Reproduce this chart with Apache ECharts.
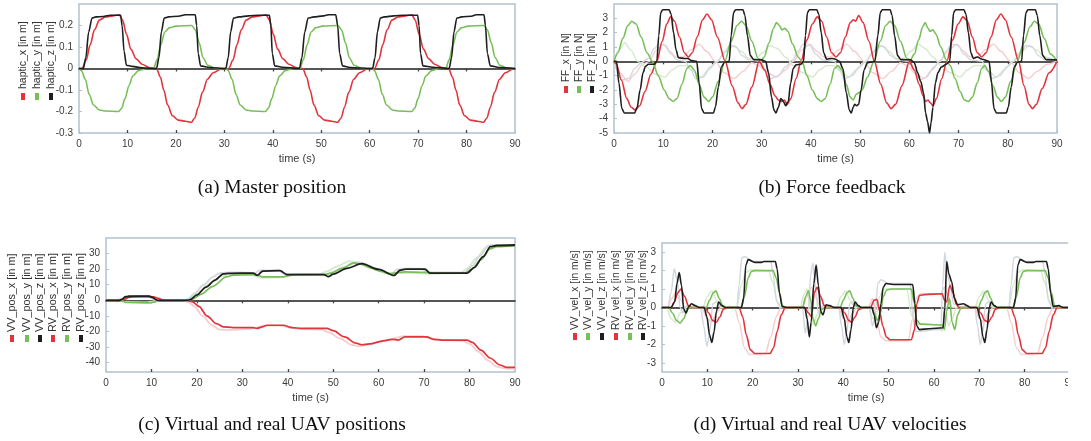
<!DOCTYPE html>
<html>
<head>
<meta charset="utf-8">
<script src="https://cdn.jsdelivr.net/npm/echarts@6/dist/echarts.min.js"></script>
<style>
html,body{margin:0;padding:0;background:#fff;}
#chart{width:1091px;height:441px;}
</style>
</head>
<body>
<div id="chart"></div>
<script>
// ---- tick labels ----
var timeTicks = [0,10,20,30,40,50,60,70,80,90];
var posTicks = [-40,-30,-20,-10,0,10,20,30];
var velTicks = [-3,-2,-1,0,1,2,3];

// ---- legends / captions ----
var legendA = ['haptic_x [in m]','haptic_y [in m]','haptic_z [in m]'];
var legendB = ['FF_x [in N]','FF_y [in N]','FF_z [in N]'];
var legendC = ['VV_pos_x [in m]','VV_pos_y [in m]','VV_pos_z [in m]','RV_pos_x [in m]','RV_pos_y [in m]','RV_pos_z [in m]'];
var legendD = ['VV_vel_x [in m/s]','VV_vel_y [in m/s]','VV_vel_z [in m/s]','RV_vel_x [in m/s]','RV_vel_y [in m/s]','RV_vel_z [in m/s]'];
var captions = ['(a) Master position','(b) Force feedback','(c) Virtual and real UAV positions','(d) Virtual and real UAV velocities'];

// ---- (a) master position, [time, value] ----
var hapticX = [[0,0],[0.6,0],[1.5,0.04],[2.3,0.11],[3.2,0.18],[4.2,0.225],[5.5,0.24],[7,0.245],[8.3,0.25],[9,0.225],[9.8,0.16],[10.7,0.09],[11.8,0.045],[13,0.02],[14.5,0.005],[16,0],
[16.8,-0.04],[17.5,-0.1],[18.3,-0.17],[19.3,-0.22],[20.5,-0.24],[22,-0.245],[23.2,-0.25],[23.9,-0.23],[24.6,-0.18],[25.5,-0.11],[26.5,-0.05],[27.7,-0.02],[29.5,0],
[30.9,0],[31.8,0.04],[32.6,0.11],[33.5,0.18],[34.5,0.225],[35.8,0.24],[37.3,0.245],[38.6,0.25],[39.3,0.225],[40.1,0.16],[41,0.09],[42.1,0.045],[43.3,0.02],[44.8,0.005],[46.2,0],
[47,-0.04],[47.7,-0.1],[48.5,-0.17],[49.5,-0.22],[50.7,-0.24],[52.2,-0.245],[53.4,-0.25],[54.1,-0.23],[54.8,-0.18],[55.7,-0.11],[56.7,-0.05],[57.9,-0.02],[59.7,0],
[61,0],[61.9,0.04],[62.7,0.11],[63.6,0.18],[64.6,0.225],[65.9,0.24],[67.4,0.245],[68.7,0.25],[69.4,0.225],[70.2,0.16],[71.1,0.09],[72.2,0.045],[73.4,0.02],[74.9,0.005],[76.3,0],
[77.1,-0.04],[77.8,-0.1],[78.6,-0.17],[79.6,-0.22],[80.8,-0.24],[82.3,-0.245],[83.5,-0.25],[84.2,-0.23],[84.9,-0.18],[85.8,-0.11],[86.8,-0.05],[88,-0.02],[89.8,0],[90,0]];
var hapticY = [[0,0],[0.5,-0.01],[1.3,-0.05],[2.1,-0.12],[3,-0.17],[4.2,-0.193],[5.5,-0.198],[8.2,-0.2],[8.8,-0.185],[9.5,-0.14],[10.3,-0.08],[11.1,-0.035],[12.3,-0.01],[14,0],
[15.4,0],[16.1,0.04],[16.9,0.11],[17.7,0.17],[18.7,0.19],[20,0.197],[23.3,0.2],[24,0.18],[24.8,0.12],[25.6,0.05],[26.6,0.015],[28.3,0],
[30.3,0],[30.8,-0.01],[31.6,-0.05],[32.4,-0.12],[33.3,-0.17],[34.5,-0.193],[35.8,-0.198],[38.5,-0.2],[39.1,-0.185],[39.8,-0.14],[40.6,-0.08],[41.4,-0.035],[42.6,-0.01],[44.3,0],
[45.6,0],[46.3,0.04],[47.1,0.11],[47.9,0.17],[48.9,0.19],[50.2,0.197],[53.5,0.2],[54.2,0.18],[55,0.12],[55.8,0.05],[56.8,0.015],[58.5,0],
[60.5,0],[61,-0.01],[61.8,-0.05],[62.6,-0.12],[63.5,-0.17],[64.7,-0.193],[66,-0.198],[68.7,-0.2],[69.3,-0.185],[70,-0.14],[70.8,-0.08],[71.6,-0.035],[72.8,-0.01],[74.5,0],
[75.7,0],[76.4,0.04],[77.2,0.11],[78,0.17],[79,0.19],[80.3,0.197],[83.6,0.2],[84.3,0.18],[85.1,0.12],[85.9,0.05],[86.9,0.015],[88.6,0],[90,0]];
var hapticZ = [[0,0],[0.9,0],[1.4,0.05],[2,0.17],[2.7,0.235],[3.5,0.24],[5,0.242],[6.5,0.248],[8.6,0.248],[8.9,0.2],[9.3,0.08],[9.8,0.015],[11,0.01],[13,0.003],[16,0],
[16.5,0.05],[17,0.17],[17.6,0.235],[18.5,0.24],[20.5,0.243],[22,0.25],[24,0.25],[24.3,0.2],[24.6,0.07],[25.1,0.012],[27,0.005],[30.3,0],
[30.8,0.05],[31.3,0.17],[31.9,0.235],[33,0.24],[35,0.245],[37,0.248],[39.3,0.248],[39.6,0.2],[39.9,0.07],[40.4,0.012],[42,0.006],[45.5,0],
[46,0.05],[46.6,0.17],[47.3,0.235],[48.5,0.24],[50.5,0.245],[51.5,0.25],[53,0.25],[53.4,0.2],[53.8,0.07],[54.4,0.012],[56,0.005],[60.6,0],
[61.1,0.05],[61.6,0.17],[62.2,0.235],[63,0.24],[65,0.245],[67,0.248],[69.9,0.248],[70.2,0.2],[70.5,0.07],[71,0.012],[73,0.006],[76.4,0],
[76.9,0.05],[77.4,0.17],[78,0.235],[79,0.24],[81,0.243],[82,0.25],[83.6,0.25],[83.9,0.2],[84.3,0.07],[84.9,0.012],[87,0.004],[90,0]];

// ---- (b) force feedback ----
var ffX = [[0,0],[0.5,-0.2],[1.5,-1.3],[2.6,-2.6],[3.5,-3.2],[4.3,-3.4],[5.2,-3.1],[6.3,-2.1],[7.5,-0.9],[8.7,0],[9.8,1.4],[10.7,2.6],[11.5,3.1],[12.3,2.8],[13.3,1.7],[14.3,0.6],[15.1,0.3],[15.9,0.6],[16.9,1.7],[18,2.9],[18.9,3.3],[19.8,2.9],[21,1.7],[22.6,0],[24,-1.7],[25.2,-2.9],[26,-3.3],[26.8,-3],[28,-1.8],[29.5,0],
[30.6,-0.6],[31.7,-1.6],[32.7,-2.4],[33.4,-2.7],[34,-2.8],[34.6,-2.7],[35.2,-3.0],[35.9,-2.6],[37,-1.2],[38,0],[39.2,1.5],[40.3,2.6],[41.3,3.1],[42.2,2.8],[43.2,1.7],[44.2,0.6],[45.1,0.3],[46,0.6],[47,1.7],[48,2.7],[48.6,2.9],[49.1,2.8],[49.7,3.2],[50.6,2.7],[51.8,1.4],[52.9,0],[54.2,-1.6],[55.4,-2.9],[56.3,-3.3],[57.2,-3],[58.5,-1.7],[60,0],
[61,-0.6],[62,-1.6],[62.8,-2.4],[63.3,-2.8],[63.8,-2.7],[64.3,-2.9],[64.8,-3.1],[65.5,-2.6],[66.6,-1.2],[67.6,0],[68.8,1.5],[69.9,2.6],[70.9,3.1],[71.8,2.8],[72.8,1.7],[73.8,0.6],[74.7,0.3],[75.6,0.6],[76.6,1.7],[77.7,2.9],[78.6,3.3],[79.5,2.9],[80.7,1.7],[82.2,0],[83.3,-1.7],[84.3,-3.0],[85,-3.3],[85.8,-3.0],[87,-1.9],[88.4,-0.8],[90,0]];
var ffY = [[0,0],[0.8,0.6],[1.8,1.6],[2.8,2.5],[3.6,2.8],[4.5,2.6],[5.5,1.7],[6.7,0.6],[7.8,0],[9,-1],[10.2,-2],[11.2,-2.6],[12,-2.8],[12.8,-2.6],[13.8,-1.6],[14.8,-0.5],[15.5,-0.3],[16.3,-0.6],[17.3,-1.6],[18.3,-2.5],[19.2,-2.8],[20,-2.5],[21.2,-1.4],[22.5,0],[23.8,1.4],[25,2.5],[25.9,2.8],[26.8,2.5],[28,1.4],[29.3,0.2],[30,0.1],
[30.5,0.3],[31.5,1.3],[32.4,2.3],[33,2.7],[33.6,2.5],[34.1,2.2],[34.7,2.3],[35.3,2.1],[36.3,1.2],[37.4,0.3],[38.2,0],[39.2,-1],[40.3,-2],[41.3,-2.6],[42.1,-2.8],[42.9,-2.6],[43.9,-1.6],[44.8,-0.5],[45.5,-0.3],[46.3,-0.6],[47.2,-1.6],[48,-2.5],[48.6,-2.7],[49.2,-2.3],[49.7,-2.2],[50.4,-2.0],[51.5,-1.1],[52.8,0],[54.1,1.4],[55.2,2.5],[56.1,2.8],[57,2.5],[58.2,1.4],[59.5,0.2],[60.2,0.1],
[61,0.5],[61.9,1.5],[62.7,2.4],[63.2,2.7],[63.8,2.3],[64.2,2.1],[64.8,2.2],[65.4,1.9],[66.4,1],[67.5,0.1],[68.3,-0.3],[69.3,-1.2],[70.3,-2.1],[71.2,-2.7],[72,-2.8],[72.8,-2.5],[73.8,-1.5],[74.7,-0.5],[75.3,-0.3],[76.1,-0.7],[77,-1.7],[77.9,-2.5],[78.7,-2.8],[79.5,-2.5],[80.6,-1.4],[81.9,0],[83.3,1.3],[84.5,2.4],[85.4,2.8],[86.3,2.6],[87.4,1.6],[88.7,0.5],[90,0]];
var ffZ = [[0,0],[0.5,0],[1.0,-1.5],[1.6,-3.3],[2.1,-3.6],[4.2,-3.6],[4.7,-3.2],[5.3,-2],[5.9,-0.8],[6.4,-0.35],[7,-0.2],[8.2,-0.2],[8.7,0],[9.1,1.8],[9.5,3.4],[9.9,3.6],[11.2,3.6],[11.6,3.3],[12.1,2],[12.6,0.8],[13.1,0.25],[14.3,0.2],[15,0.2],[15.8,0.05],[16.8,0],[17.3,-1.5],[17.8,-3.3],[18.3,-3.6],[20.2,-3.6],[20.6,-3.2],[21.2,-1.8],[21.8,-0.4],[22.5,-0.05],[23.4,0],[23.8,1.8],[24.3,3.4],[24.7,3.6],[26.2,3.6],[26.6,3.2],[27.1,1.8],[27.7,0.4],[28.4,0.12],[30,0.1],
[30.8,0],[31.4,-0.8],[32,-2.5],[32.5,-3.4],[32.9,-3.6],[33.4,-3.2],[33.9,-2.6],[34.4,-2.8],[34.9,-3.1],[35.4,-2.8],[35.9,-1.5],[36.4,-0.5],[37,-0.25],[38,-0.2],[38.5,0],[38.9,1.8],[39.3,3.4],[39.7,3.6],[41.2,3.6],[41.6,3.3],[42.1,2],[42.6,0.6],[43.2,0.15],[44.3,0.2],[45,0.15],[45.8,0],[46.5,-0.5],[47.2,-2.2],[47.8,-3.4],[48.2,-3.6],[48.6,-3.2],[48.9,-3],[49.3,-3.1],[49.7,-3],[50.2,-2],[50.8,-0.6],[51.5,-0.1],[53,0],[53.6,1.8],[54.1,3.4],[54.5,3.6],[56.1,3.6],[56.5,3.2],[57,1.8],[57.6,0.4],[58.3,0.12],[60.3,0.1],
[61,-0.1],[61.7,-0.8],[62.3,-1.4],[62.9,-2.2],[63.3,-3.6],[63.7,-4.2],[64.1,-5],[64.4,-4.3],[64.8,-3.2],[65.3,-1.5],[65.8,-0.8],[66.5,-0.4],[67.5,-0.2],[68.2,0],[68.6,1.8],[69,3.4],[69.4,3.6],[71.1,3.6],[71.5,3.3],[72,2],[72.5,0.6],[73,0.2],[73.8,0.3],[74.8,0.15],[76.2,0],[76.7,-1.5],[77.2,-3.3],[77.7,-3.6],[79.7,-3.6],[80.1,-3.2],[80.7,-1.8],[81.3,-0.4],[82,-0.05],[82.8,0],[83.2,1.8],[83.7,3.4],[84.1,3.6],[85.6,3.6],[86,3.2],[86.5,1.8],[87.1,0.4],[87.8,0.12],[90,0.1]];
// faint traces in (b)
var ffXf = [[0,0],[1.2,-0.8],[2.8,-1.4],[4.2,-0.9],[5.8,-0.2],[7.2,0],[8.6,0.8],[10,1.2],[11.3,0.7],[12.6,0.3],[14,0.3],[15.6,0.8],[17.3,1.2],[18.8,0.7],[20.6,0],[22.4,-0.8],[24.4,-1.2],[26.2,-0.7],[28,-0.1],[29.4,-0.3],[31.2,-0.8],[33,-1.1],[34.8,-0.6],[36.4,0],[38.2,0.8],[39.8,1.2],[41.2,0.7],[42.6,0.3],[44,0.3],[45.6,0.8],[47.3,1.2],[48.8,0.7],[50.8,0],[52.6,-0.8],[54.6,-1.2],[56.4,-0.7],[58.2,-0.1],[59.6,-0.3],[61.3,-0.9],[63,-1.2],[64.6,-0.6],[66.2,0],[68,0.8],[69.6,1.2],[71,0.7],[72.4,0.3],[73.8,0.3],[75.4,0.8],[77.1,1.2],[78.6,0.7],[80.5,0],[82.4,-0.8],[84.2,-1.2],[86,-0.7],[88,-0.2],[90,0]];
var ffYf = [[0,0],[1,0.8],[2.2,1.3],[3.4,0.8],[4.8,0],[6.5,-0.4],[8.5,-0.9],[10.3,-1.1],[11.8,-0.6],[13.2,-0.3],[14.6,-0.3],[16.1,-0.7],[17.7,-1.1],[19.2,-0.6],[21,0],[22.8,0.7],[24.4,1.1],[25.8,0.7],[27.5,0.2],[28.8,0.2],[30.2,0.6],[31.7,1.1],[33.2,0.9],[34.8,0.3],[36.5,-0.3],[38.4,-0.8],[40.3,-1.1],[41.8,-0.6],[43.2,-0.3],[44.6,-0.3],[46.1,-0.7],[47.7,-1.1],[49.2,-0.6],[51,0],[52.8,0.7],[54.4,1.1],[55.8,0.7],[57.5,0.2],[58.8,0.2],[60.3,0.7],[61.8,1.2],[63.2,0.9],[64.8,0.3],[66.5,-0.3],[68.4,-0.8],[70.3,-1.1],[71.8,-0.6],[73.2,-0.3],[74.6,-0.3],[76.1,-0.7],[77.7,-1.1],[79.2,-0.6],[81,0],[82.8,0.7],[84.4,1.1],[85.8,0.8],[87.5,0.3],[90,0]];
var ffZf = [[0,0],[0.6,-0.6],[1.5,-1.3],[3,-1.2],[4.2,-0.5],[5.5,-0.1],[7,0.2],[8.2,0.9],[9.2,1.2],[10.5,1.1],[11.6,0.5],[12.8,0.1],[14.5,0],[15.6,-0.6],[16.6,-1.2],[18.2,-1.1],[19.5,-0.4],[21,0],[22.4,0.6],[23.5,1.1],[24.8,1.0],[26,0.4],[27.5,0.1],[29.8,0],[30.8,-0.6],[31.8,-1.2],[33.4,-1.0],[34.8,-0.4],[36.3,0.1],[37.4,0.7],[38.4,1.2],[39.8,1.1],[41,0.5],[42.4,0.1],[44.8,0],[45.8,-0.6],[46.8,-1.2],[48.4,-1.0],[49.8,-0.4],[51.2,0],[52.6,0.6],[53.6,1.1],[55,1.0],[56.2,0.4],[57.6,0.1],[59.8,0],[61,-0.6],[62.2,-1.3],[63.5,-1.1],[65,-0.4],[66.4,0.1],[67.5,0.7],[68.5,1.2],[69.9,1.1],[71.1,0.5],[72.5,0.1],[74.8,0],[75.8,-0.6],[76.8,-1.2],[78.4,-1.0],[79.8,-0.4],[81.2,0],[82.6,0.6],[83.6,1.1],[85,1.0],[86.2,0.4],[87.6,0.1],[90,0]];

// ---- (c) positions ----
var vvPosX = [[0,0],[3,0],[4,0.5],[5,1.8],[6,2.4],[9,2.5],[10.4,2.3],[11.3,1.5],[12.3,0.4],[13,0],[18,0],[19,-1],[20.5,-4],[22.2,-10],[24.3,-15],[25.8,-17],[28,-17.5],[32.4,-17.5],[33.2,-18],[34.4,-17],[35.4,-16],[39,-16],[41,-17.5],[43,-18],[48.6,-18],[50,-19.5],[52.5,-23.5],[55,-27.5],[56.3,-28.5],[58,-28],[61,-26],[63,-25],[64.3,-25.5],[65.8,-23.5],[70.6,-23.5],[72,-25],[74,-25.5],[79.4,-25.5],[80.6,-27],[82.5,-32],[84.5,-37],[86.7,-41.5],[88.2,-43],[90,-43]];
var vvPosY = [[0,0],[3,0],[3.8,-0.6],[4.5,-1.4],[9.5,-1.6],[10.5,-1.2],[11.5,-0.2],[12.5,0],[18,0],[19,0.8],[21,4],[23.5,9],[26.5,15],[28,16.2],[32.4,16.5],[33.5,16],[34.6,15],[39,15],[40.5,16],[42,16.5],[48,16.5],[49.5,17.5],[52,20.5],[54.5,24],[56.2,23.2],[58,21],[60.5,18.5],[62.5,17],[64.5,18],[66,18.3],[70,18],[72,17.5],[79,17.5],[80.5,20],[82.5,26],[84.5,33],[86,34.5],[90,35]];
var vvPosZ = [[0,0],[3,0],[3.6,0.8],[4.3,2.3],[5,2.6],[9.5,2.6],[10.3,1.8],[11,0.4],[11.5,0],[18,0],[18.5,0.4],[20,3.5],[22,8.5],[24,13],[25.8,17],[27,17.3],[32.4,17.5],[33.3,16],[34.5,18.8],[38.3,19],[39.8,16.5],[48,16.5],[48.9,15.2],[50,16.8],[53,20.5],[56.3,23.5],[60,19.8],[63.4,16],[64.7,19.3],[66,20],[70.2,20],[71.3,17.5],[79.5,17.5],[81,21],[83,28],[84.6,34.5],[86,35.2],[90,35.5]];
var rvPosX = [[0,0],[2,0],[3.5,1],[5,2],[9,2.2],[10.5,1.5],[12,0.5],[13,0],[17,0],[18,-1],[19.5,-4],[21.2,-10],[23.3,-16],[25,-18.8],[27,-19],[31.5,-18.5],[33,-17.5],[35,-16.3],[38.5,-16.3],[40.5,-17.5],[42.5,-18.5],[47.5,-18.8],[49,-20.5],[51.5,-24.5],[54,-28.5],[55.5,-29.5],[57.5,-28.5],[60.5,-26.5],[62.5,-25],[64,-24],[65.5,-23],[69.5,-23],[71.5,-24.5],[73.5,-25.5],[78.5,-26],[80,-28],[82,-33],[84,-38.5],[86,-42.5],[88,-43.8],[90,-43.8]];
var rvPosY = [[0,0],[3,0],[4,-1],[9,-1.3],[11,-0.5],[12,0],[17.2,0],[18.2,1],[20.5,5.5],[23,11],[25.5,15.5],[27,16.5],[31.5,16.8],[33,15.5],[34,14.5],[38.5,14.8],[40,15.8],[41.5,16.3],[47,16.8],[48.5,18.5],[51,22],[53.5,25.2],[55,24.5],[57,22],[59.5,19.5],[61.5,17.5],[63.5,17.8],[65,17.5],[69,17.3],[71,17],[78,17.5],[79.5,20.5],[81.5,27],[83.5,33.5],[85,35.2],[90,35.2]];
var rvPosZ = [[0,0],[3,0],[3.5,1],[4.2,2.2],[9,2.4],[10,1.5],[10.8,0],[17.3,0],[18,0.8],[19.5,4.5],[21.5,10],[23.5,15],[25,17.5],[27,18],[31.5,17.8],[32.5,17],[33.8,19.2],[37.8,19.3],[39.2,17],[47.5,16.8],[48.3,16],[49.5,18],[52.5,21.5],[55.5,24.5],[59.5,20.5],[62.8,16.8],[64,19.8],[65.5,20.3],[69.5,20.3],[70.7,18],[79,18],[80.5,22],[82.5,29],[84,35],[85.5,35.6],[90,35.8]];

// ---- (d) velocities ----
var vvVelX = [[0,0],[2,0],[2.7,0.3],[3.5,0.8],[4.2,1.0],[5,0.6],[5.8,0.1],[6.5,0],[9.5,0],[10.3,-0.3],[11.2,-0.7],[12,-0.8],[12.8,-0.5],[13.5,-0.1],[14.5,0],[17,0],[17.8,-0.5],[18.6,-1.5],[19.5,-2.3],[20.5,-2.5],[23.8,-2.5],[24.6,-2.2],[25.4,-1.3],[26.3,-0.4],[27.2,0],[31.5,0],[32.3,-0.3],[33,-0.5],[33.6,0.8],[34.2,1.1],[35,0.6],[35.8,0.1],[36.5,0],[39.5,0],[40.3,-0.3],[41.2,-0.7],[41.8,-0.8],[42.6,-0.5],[43.4,-0.1],[44.5,0],[46,0],[46.8,0.4],[47.4,0.45],[48,-0.2],[48.7,-1.0],[49.5,-1.6],[50.3,-1.75],[55,-1.75],[55.7,-1.2],[56.2,0.2],[56.8,0.65],[58,0.7],[61.8,0.75],[62.3,0.4],[62.8,0.3],[63.5,1.2],[64.2,0.8],[64.9,0.2],[65.5,0],[69.5,0],[70.3,-0.3],[71.2,-0.7],[72,-0.8],[72.8,-0.5],[73.5,-0.1],[74.5,0],[77,0],[77.8,-0.5],[78.6,-1.5],[79.5,-2.3],[80.5,-2.5],[83.8,-2.5],[84.6,-2.2],[85.4,-1.3],[86.3,-0.4],[87.2,0],[90,0]];
var vvVelY = [[0,0],[1.5,0],[2.3,-0.3],[3.2,-0.7],[4,-0.85],[4.8,-0.6],[5.6,-0.1],[6.3,0],[9.8,0],[10.5,0.4],[11.3,0.8],[11.9,0.9],[12.6,0.5],[13.4,0.1],[14.2,0],[17.5,0],[18.2,0.6],[19,1.6],[19.7,1.95],[20.5,2.0],[24.5,2.0],[25.2,1.6],[25.9,0.8],[26.6,0.1],[27.2,0],[31,0],[31.7,0.6],[32.3,0.9],[32.8,0.4],[33.3,-0.6],[33.9,-1.0],[34.5,-0.6],[35.2,-0.1],[36,0],[39.3,0],[40,0.4],[40.8,0.8],[41.4,0.9],[42.1,0.5],[42.8,0.1],[43.6,0],[46.2,0],[46.8,-0.3],[47.5,-0.7],[48.2,-0.3],[48.8,0.6],[49.6,0.95],[50.5,1.0],[55,1.0],[55.6,0.3],[56.2,-0.7],[57,-0.9],[61.8,-0.95],[62.3,-1.2],[62.8,-0.2],[63.4,0.5],[64,-0.8],[64.6,-1.2],[65.2,-0.4],[66,0],[69.8,0],[70.5,0.4],[71.2,0.8],[71.8,0.9],[72.5,0.5],[73.2,0.1],[74,0],[77.5,0],[78.2,0.6],[79,1.6],[79.7,1.95],[80.5,2.0],[84.5,2.0],[85.2,1.6],[85.9,0.8],[86.6,0.1],[87.2,0],[90,0]];
var vvVelZ = [[0,0],[2,0],[2.8,0.3],[3.3,1.3],[3.8,1.9],[4.3,1.2],[4.8,-0.1],[5.3,-0.3],[5.9,0.05],[6.5,0.2],[7.3,0.1],[8.2,0],[9.3,0],[9.9,-0.5],[10.5,-1.5],[11,-1.9],[11.5,-1.3],[12,-0.2],[12.5,0.3],[13.2,0.1],[14,0],[17.5,0],[18,0.5],[18.5,2.3],[19,2.6],[20.5,2.45],[22,2.45],[22.5,2.5],[25,2.5],[25.4,2.1],[25.9,0.8],[26.5,0.05],[27.5,0],[31.5,0],[32,-0.6],[32.5,-1.6],[32.9,-0.8],[33.5,1.3],[34,2.3],[34.5,1.2],[35,-0.2],[35.5,-0.4],[36.2,0.15],[37,0.1],[38,0],[39.5,0],[40.2,-0.6],[40.8,-1.6],[41.2,-1.9],[41.7,-1.2],[42.2,0],[42.6,0.3],[43.3,0.1],[44,0],[46.3,0],[46.8,-0.4],[47.3,-1.1],[47.8,-0.8],[48.3,0.2],[48.8,1.1],[49.4,1.3],[51,1.25],[55.3,1.25],[55.8,0.2],[56.2,-1.0],[56.8,-1.2],[59,-1.15],[62,-1.1],[62.4,0],[62.8,2.5],[63.3,1.8],[63.9,1.4],[64.5,0.5],[65.2,0.15],[66.5,0.2],[67.3,0.1],[68,0],[69.5,0],[70.2,-0.6],[70.8,-1.6],[71.2,-1.9],[71.7,-1.2],[72.2,0],[72.6,0.3],[73.3,0.1],[74,0],[77.5,0],[78,0.5],[78.5,2.3],[79,2.6],[80.5,2.45],[82,2.45],[82.5,2.5],[84.8,2.5],[85.2,2.1],[85.7,0.8],[86.3,0.05],[87.5,0.1],[88.5,0],[90,0]];
var rvVelX = [[0,0],[1.2,0],[2.2,0.5],[3.2,0.9],[4.2,0.4],[5,0],[8.7,0],[10,-0.6],[11,-0.8],[12,-0.3],[13,0],[16,0],[17,-0.8],[18.2,-2.2],[19.3,-2.55],[22.8,-2.5],[24,-1.6],[25.2,-0.5],[26.2,0],[31,0],[32,0.6],[33,1.1],[34,0.5],[35,0],[39,0],[40,-0.6],[41,-0.8],[42,-0.3],[43,0],[45.5,0],[46.5,0.5],[47.3,-0.6],[48.3,-1.6],[49.3,-1.8],[54.3,-1.8],[55.3,-0.6],[56,0.5],[57,0.75],[61.5,0.75],[62.3,1.1],[63.2,0.6],[64,0],[69,0],[70,-0.6],[71,-0.8],[72,-0.3],[73,0],[76,0],[77,-0.8],[78.2,-2.2],[79.3,-2.55],[82.8,-2.5],[84,-1.6],[85.2,-0.5],[86.2,0],[90,0]];
var rvVelY = [[0,0],[1,0],[2,-0.6],[3,-0.8],[4,-0.3],[5,0],[9,0],[10,0.6],[11,0.9],[12,0.4],[13,0],[16.5,0],[17.5,1.2],[18.5,1.9],[19.5,2.05],[23.5,2.0],[24.5,1.3],[25.5,0.3],[26.3,0],[30.5,0],[31.3,0.7],[32,1.0],[32.8,-0.2],[33.4,-0.9],[34.2,-0.4],[35,0],[38.5,0],[39.5,0.6],[40.5,0.9],[41.5,0.4],[42.5,0],[45.5,0],[46.5,-0.6],[47.2,-0.5],[48,0.6],[48.8,1.0],[54,1.0],[55,-0.4],[55.8,-0.9],[61,-0.95],[61.8,-1.3],[62.4,0.3],[63.2,-1.0],[64,-0.6],[65,0],[69,0],[70,0.6],[71,0.9],[72,0.4],[73,0],[76.5,0],[77.5,1.2],[78.5,1.9],[79.5,2.05],[83.5,2.0],[84.5,1.3],[85.5,0.3],[86.3,0],[90,0]];
var rvVelZ = [[0,0],[1.3,0],[2,0.8],[2.7,2.1],[3.3,1.5],[4,0],[4.6,-0.3],[5.5,0.1],[7,0],[8.5,0],[9.2,-1],[9.9,-2.1],[10.6,-1.2],[11.2,0.2],[12,0.3],[13,0],[16.5,0],[17,1.2],[17.6,2.7],[18.3,2.75],[20,2.5],[24,2.5],[24.5,1.8],[25.2,0.4],[26,0],[31,0],[31.6,-1.4],[32.2,-0.5],[32.8,1.8],[33.3,2.4],[33.9,1.0],[34.5,-0.3],[35.5,0.1],[37,0],[39,0],[39.6,-1],[40.2,-2.0],[40.8,-1.3],[41.4,0.2],[42,0.3],[43,0],[45.8,0],[46.4,-1.0],[47,-0.5],[47.6,1.3],[48.3,1.5],[50,1.3],[54.8,1.3],[55.3,-0.5],[56,-1.3],[61.5,-1.2],[61.9,1.2],[62.4,3.0],[62.9,1.8],[63.6,1.2],[64.3,0.2],[66,0],[69,0],[69.6,-1],[70.2,-2.0],[70.8,-1.3],[71.4,0.2],[72,0.3],[73,0],[76.5,0],[77,1.2],[77.6,2.7],[78.3,2.75],[80,2.5],[84,2.5],[84.5,1.8],[85.2,0.4],[86,0],[90,0]];

var RED = '#e2343c', GREEN = '#78bf5a', BLACK = '#1e1e1e';
var RED_F = '#f7cdcf', GREEN_F = '#d6eacb', GRAY_F = '#d3d8e0';
var BORDER = '#b4c1d1';

var chart = echarts.init(document.getElementById('chart'), null, {renderer:'canvas'});

// panel (d) runs past its crop line at x=1068, like the source image
var grids = [
    {left:79, top:4, width:436, height:129},
    {left:614, top:4, width:443, height:129},
    {left:106, top:238, width:409, height:134},
    {left:662, top:243, width:408, height:129}
];
var yRanges = [
    {min:-0.3, max:0.3, ticks:[-0.3,-0.2,-0.1,0,0.1,0.2]},
    {min:-5, max:4, ticks:[-5,-4,-3,-2,-1,0,1,2,3]},
    {min:-46, max:40, ticks:posTicks},
    {min:-3.5, max:3.5, ticks:velTicks}
];

var xAxes = [], yAxes = [];
for(var g=0; g<4; g++){
    // labelled bottom axis
    xAxes.push({
        type:'value', gridIndex:g, position:'bottom', min:0, max:90,
        axisLine:{show:false, onZero:false},
        axisTick:{show:true, inside:true, length:3, lineStyle:{color:BORDER}, customValues:timeTicks},
        axisLabel:{color:'#3a3a3a', fontSize:10, fontFamily:'Liberation Sans', margin:6, customValues:timeTicks},
        splitLine:{show:false},
        name:'time (s)', nameLocation:'middle', nameGap:20,
        nameTextStyle:{color:'#3a3a3a', fontSize:11, fontFamily:'Liberation Sans'}
    });
    // zero line with crossing ticks
    xAxes.push({
        type:'value', gridIndex:g, position:'bottom', min:0, max:90,
        axisLine:{show:true, onZero:true, lineStyle:{color:'#555', width:1.8}},
        axisTick:{show:true, inside:false, length:3, lineStyle:{color:'#444', width:1.3}, customValues:timeTicks.slice(1,9)},
        axisLabel:{show:false}, splitLine:{show:false}
    });
    xAxes.push({
        type:'value', gridIndex:g, position:'bottom', min:0, max:90,
        axisLine:{show:false, onZero:true},
        axisTick:{show:true, inside:true, length:3, lineStyle:{color:'#444', width:1.3}, customValues:timeTicks.slice(1,9)},
        axisLabel:{show:false}, splitLine:{show:false}
    });
    yAxes.push({
        type:'value', gridIndex:g, min:yRanges[g].min, max:yRanges[g].max,
        axisLine:{show:false},
        axisTick:{show:true, inside:true, length:3, lineStyle:{color:BORDER}, customValues:yRanges[g].ticks},
        axisLabel:{color:'#3a3a3a', fontSize:10, fontFamily:'Liberation Sans', margin:6, customValues:yRanges[g].ticks,
            formatter:function(v){ return String(Math.round(v*10)/10); }},
        splitLine:{show:false}
    });
}

function line(g, data, color, width, z){
    return {
        type:'line', xAxisIndex:g*3, yAxisIndex:g, data:data,
        showSymbol:false, smooth:0.3, smoothMonotone:'x', silent:true,
        lineStyle:{color:color, width:width}, z:z
    };
}

var series = [
    line(0, hapticX, RED, 1.6, 3), line(0, hapticY, GREEN, 1.6, 3), line(0, hapticZ, BLACK, 1.6, 4),
    line(1, ffXf, RED_F, 1.4, 2), line(1, ffYf, GREEN_F, 1.4, 2), line(1, ffZf, GRAY_F, 1.4, 2),
    line(1, ffX, RED, 1.6, 3), line(1, ffY, GREEN, 1.6, 3), line(1, ffZ, BLACK, 1.6, 4),
    line(2, rvPosX, RED_F, 1.8, 2), line(2, rvPosY, GREEN_F, 1.8, 2), line(2, rvPosZ, GRAY_F, 1.8, 2),
    line(2, vvPosX, RED, 1.7, 3), line(2, vvPosY, GREEN, 1.7, 3), line(2, vvPosZ, BLACK, 1.8, 4),
    line(3, rvVelX, RED_F, 1.5, 2), line(3, rvVelY, GREEN_F, 1.5, 2), line(3, rvVelZ, GRAY_F, 1.5, 2),
    line(3, vvVelX, RED, 1.6, 3), line(3, vvVelY, GREEN, 1.6, 3), line(3, vvVelZ, BLACK, 1.6, 4)
];

// rotated legend labels with small colour marks
var graphics = [];
function addLegend(labels, xs, textBottom, markY, colors, fs){
    for(var i=0; i<labels.length; i++){
        graphics.push({
            type:'text', x:xs[i], y:textBottom, rotation:Math.PI/2,
            style:{text:labels[i], fill:'#333', font:fs+'px "Liberation Sans"', textAlign:'left', textVerticalAlign:'middle'}
        });
        graphics.push({
            type:'rect', shape:{x:xs[i]-2, y:markY, width:4, height:7},
            style:{fill:colors[i]}
        });
    }
}
addLegend(legendA, [23,37,51], 89, 93, [RED,GREEN,BLACK], 10.5);
addLegend(legendB, [566,579,592], 82, 86, [RED,GREEN,BLACK], 10);
addLegend(legendC, [12,27,40,53,67,81], 332, 335, [RED,GREEN,BLACK,RED,GREEN,BLACK], 10.8);
addLegend(legendD, [575,588,602,616,630,643], 330, 333, [RED,GREEN,BLACK,RED,GREEN,BLACK], 10.3);

var capPos = [[272,188],[832,188],[272,425],[830,425]];
for(var c=0; c<4; c++){
    graphics.push({
        type:'text', x:capPos[c][0], y:capPos[c][1],
        style:{text:captions[c], fill:'#111', font:'19.5px "Liberation Serif"', textAlign:'center', textVerticalAlign:'middle'}
    });
}
// crop edge of the (d) picture
graphics.push({type:'rect', shape:{x:1068, y:232, width:23, height:170}, style:{fill:'#fff'}, z:100});

var grid = grids.map(function(r){
    return {left:r.left, top:r.top, width:r.width, height:r.height, show:true, borderColor:BORDER, borderWidth:1.5, containLabel:false};
});

chart.setOption({
    animation:false,
    backgroundColor:'#fff',
    grid:grid,
    xAxis:xAxes,
    yAxis:yAxes,
    series:series,
    graphic:graphics
});
</script>
</body>
</html>
